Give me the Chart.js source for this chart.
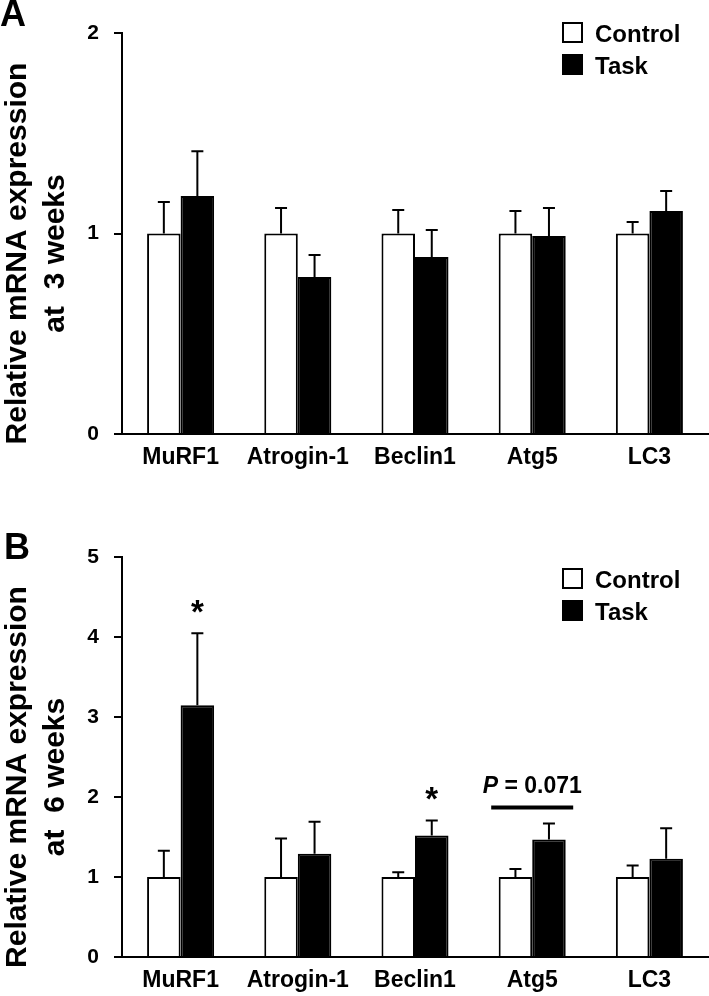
<!DOCTYPE html>
<html>
<head>
<meta charset="utf-8">
<title>Relative mRNA expression</title>
<script src="https://cdn.jsdelivr.net/npm/chart.js@4.4.1/dist/chart.umd.min.js"></script>
<style>
    body { margin: 0; background: #fff; }
    .panel { position: absolute; left: 0; }
    #panelA { top: 0; }
    #panelB { top: 498px; }
</style>
</head>
<body>
<canvas id="panelA" class="panel" width="709" height="498"></canvas>
<canvas id="panelB" class="panel" width="709" height="498"></canvas>
<script>
// Categories and series
const genes = ['MuRF1', 'Atrogin-1', 'Beclin1', 'Atg5', 'LC3'];
const seriesNames = ['Control', 'Task'];

// Panel A - 3 weeks
const control3w = [1, 1, 1, 1, 1];
const control3wErr = [0.157, 0.127, 0.117, 0.112, 0.057];
const task3w = [1.187, 0.783, 0.883, 0.987, 1.112];
const task3wErr = [0.223, 0.11, 0.134, 0.14, 0.10];
const ticks3w = [0, 1, 2];

// Panel B - 6 weeks
const control6w = [1, 1, 1, 1, 1];
const control6wErr = [0.327, 0.48, 0.06, 0.10, 0.145];
const task6w = [3.146, 1.29, 1.52, 1.47, 1.227];
const task6wErr = [0.90, 0.40, 0.186, 0.20, 0.383];
const ticks6w = [0, 1, 2, 3, 4, 5];
const stars6w = ['*', '', '*', '', ''];
const pValue6w = { index: 3, text: '0.071' };

const FONT = '"Liberation Sans", Arial, sans-serif';

// Error bars, legend, axis title, letters and significance marks
const decorations = {
    id: 'decorations',
    afterDatasetsDraw(chart, args, opts) {
        const ctx = chart.ctx;
        const yScale = chart.scales.y;
        const area = chart.chartArea;
        ctx.save();
        ctx.strokeStyle = '#000';
        ctx.fillStyle = '#000';
        ctx.lineWidth = 2;

        // error bars
        const tops = [];
        chart.data.datasets.forEach((ds, i) => {
            const meta = chart.getDatasetMeta(i);
            tops[i] = [];
            meta.data.forEach((bar, j) => {
                const top = yScale.getPixelForValue(ds.data[j] + ds.errors[j]);
                tops[i][j] = { x: bar.x, y: top };
                ctx.beginPath();
                ctx.moveTo(bar.x, bar.y);
                ctx.lineTo(bar.x, top);
                ctx.moveTo(bar.x - 6, top);
                ctx.lineTo(bar.x + 6, top);
                ctx.stroke();
            });
        });

        // asterisks over the task bars
        (opts.stars || []).forEach((s, j) => {
            if (!s) return;
            ctx.font = 'bold 33px ' + FONT;
            ctx.textAlign = 'center';
            ctx.textBaseline = 'alphabetic';
            const m = ctx.measureText(s);
            const cy = tops[1][j].y - 27;
            ctx.fillText(s, tops[1][j].x, cy + (m.actualBoundingBoxAscent - m.actualBoundingBoxDescent) / 2);
        });

        // P value line and label
        if (opts.pValue) {
            const j = opts.pValue.index;
            const cx = chart.scales.x.getPixelForValue(j);
            const ly = tops[1][j].y - 16;
            ctx.lineWidth = 4;
            ctx.beginPath();
            ctx.moveTo(cx - 41, ly);
            ctx.lineTo(cx + 41, ly);
            ctx.stroke();
            const pPart = 'P';
            const rest = ' = ' + opts.pValue.text;
            ctx.textBaseline = 'alphabetic';
            ctx.textAlign = 'left';
            ctx.font = 'italic bold 23px ' + FONT;
            const w1 = ctx.measureText(pPart).width;
            ctx.font = 'bold 23px ' + FONT;
            const w2 = ctx.measureText(rest).width;
            const x0 = cx - (w1 + w2) / 2;
            ctx.font = 'italic bold 23px ' + FONT;
            ctx.fillText(pPart, x0, ly - 14);
            ctx.font = 'bold 23px ' + FONT;
            ctx.fillText(rest, x0 + w1, ly - 14);
        }

        // legend
        ctx.lineWidth = 2;
        chart.data.datasets.forEach((ds, i) => {
            const by = opts.legendTop + i * 32;
            ctx.fillStyle = ds.backgroundColor;
            ctx.fillRect(562, by, 21, 21);
            ctx.strokeRect(563, by + 1, 19, 19);
            ctx.fillStyle = '#000';
            ctx.font = 'bold 24px ' + FONT;
            ctx.textAlign = 'left';
            ctx.textBaseline = 'alphabetic';
            ctx.fillText(ds.label, 595, by + 20);
        });

        // rotated y axis title, two lines
        const cy = (area.top + area.bottom) / 2 + 20;
        ctx.font = 'bold 30px ' + FONT;
        ctx.textAlign = 'center';
        ctx.textBaseline = 'alphabetic';
        opts.yTitle.forEach((line, k) => {
            ctx.save();
            ctx.translate(26 + k * 38, cy);
            ctx.rotate(-Math.PI / 2);
            ctx.fillText(line, 0, 0);
            ctx.restore();
        });

        // panel letter
        ctx.font = 'bold 36px ' + FONT;
        ctx.textAlign = 'left';
        ctx.fillText(opts.letter, opts.letterX, opts.letterY);
        ctx.restore();
    }
};

function buildChart(canvasId, control, controlErr, task, taskErr, yTicks, extra) {
    const ctx = document.getElementById(canvasId).getContext('2d');
    return new Chart(ctx, {
        type: 'bar',
        data: {
            labels: genes,
            datasets: [
                {
                    label: seriesNames[0],
                    data: control,
                    errors: controlErr,
                    backgroundColor: '#ffffff',
                    borderColor: '#000000',
                    borderWidth: 2
                },
                {
                    label: seriesNames[1],
                    data: task,
                    errors: taskErr,
                    backgroundColor: '#000000',
                    borderColor: '#000000',
                    borderWidth: 2
                }
            ]
        },
        options: {
            responsive: false,
            animation: false,
            devicePixelRatio: 1,
            categoryPercentage: 0.572,
            barPercentage: 1,
            layout: {
                padding: { left: 0, right: 1, top: extra.padTop, bottom: extra.padBottom }
            },
            plugins: {
                legend: { display: false },
                tooltip: { enabled: false },
                decorations: extra
            },
            scales: {
                x: {
                    grid: { display: false, drawTicks: false },
                    border: { display: true, color: '#000', width: 2 },
                    ticks: {
                        color: '#000',
                        padding: 10,
                        maxRotation: 0,
                        font: { family: FONT, size: 23, weight: 'bold' }
                    },
                    afterFit(scale) { scale.height = 39; }
                },
                y: {
                    min: yTicks[0],
                    max: yTicks[yTicks.length - 1],
                    grid: {
                        drawOnChartArea: false,
                        drawTicks: true,
                        tickLength: 8,
                        color: '#000',
                        lineWidth: 2
                    },
                    border: { display: true, color: '#000', width: 2 },
                    ticks: {
                        stepSize: 1,
                        color: '#000',
                        padding: 15,
                        font: { family: FONT, size: 21, weight: 'bold' }
                    },
                    afterFit(scale) { scale.width = 122; }
                }
            }
        },
        plugins: [decorations]
    });
}

buildChart('panelA', control3w, control3wErr, task3w, task3wErr, ticks3w, {
    padTop: 33, padBottom: 25, legendTop: 22,
    yTitle: ['Relative mRNA expression', 'at  3 weeks'],
    letter: 'A', letterX: 0, letterY: 26
});

buildChart('panelB', control6w, control6wErr, task6w, task6wErr, ticks6w, {
    padTop: 59, padBottom: 0, legendTop: 70,
    yTitle: ['Relative mRNA expression', 'at  6 weeks'],
    letter: 'B', letterX: 4, letterY: 61,
    stars: stars6w, pValue: pValue6w
});
</script>
</body>
</html>
